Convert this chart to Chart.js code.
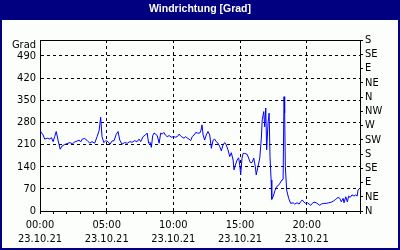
<!DOCTYPE html>
<html lang="de">
<head>
    <meta charset="UTF-8">
    <title>Windrichtung</title>
    <style>
        html, body { margin: 0; padding: 0; background: #000080; }
        .chart-box { width: 400px; height: 250px; }
    </style>
</head>
<body>
    <div class="chart-box">
        <canvas id="windChart" width="400" height="250"></canvas>
    </div>
    <script src="https://cdn.jsdelivr.net/npm/chart.js@4/dist/chart.umd.min.js"></script>
    <script>
        // Messzeitpunkte (Minuten ab 00:00) und Windrichtung in Grad
        const minutes = [0,14,21,33,44,51,59,66,73,81,91,99,111,126,136,145,156,167,176,183,
            190,201,212,224,234,246,257,266,273,279,287,296,306,315,324,333,343,351,359,369,
            381,393,404,414,426,437,446,453,464,474,482,489,496,501,507,513,521,528,536,543,
            550,557,564,572,581,591,602,609,618,626,633,640,648,656,663,671,678,685,693,701,
            708,719,725,729,734,741,748,756,764,771,779,786,793,801,809,816,824,831,838,846,
            854,861,869,873,879,887,894,899,903,909,914,921,932,939,946,954,962,969,973,981,
            989,996,1000,1007,1011,1016,1020,1026,1031,1035,1040,1043,1050,1058,1065,1072,1080,1089,1094,1098,
            1101,1104,1110,1119,1128,1139,1146,1157,1166,1173,1180,1188,1196,1203,1211,1218,1225,1233,1243,1251,
            1259,1266,1277,1288,1299,1311,1322,1331,1341,1349,1356,1364,1368,1376,1383,1389,1396,1404,1413,1421,
            1427,1431,1436]
        const grad = [254,240,227,230,227,232,219,235,251,224,195,205,210,214,216,212,218,221,224,218,
            227,229,223,214,219,214,235,254,296,235,216,222,219,211,221,222,242,251,224,211,
            216,214,219,217,222,219,227,219,235,240,246,214,216,201,237,246,243,237,214,246,
            243,248,240,235,238,233,235,233,235,243,237,233,230,235,230,227,222,235,240,248,
            246,246,256,272,240,224,240,251,240,198,224,227,219,214,203,190,209,216,209,193,
            172,184,161,130,145,161,168,145,114,167,182,182,179,167,153,153,167,140,114,140,
            167,230,288,314,266,325,193,277,309,172,98,37,47,66,77,80,88,98,100,361,
            310,140,66,40,24,26,22,26,22,29,35,28,24,26,22,18,24,28,26,22,
            18,22,24,24,26,28,32,37,43,40,29,40,26,45,29,47,43,51,47,51,
            47,66,70]

        // Achsenbeschriftung
        const gradTicks = [0, 70, 140, 210, 280, 350, 420, 490]
        const richtungen = ['N', 'NE', 'E', 'SE', 'S', 'SW', 'W', 'NW', 'N', 'NE', 'E', 'SE', 'S']
        const datum = '23.10.21'

        const points = minutes.map((m, i) => ({x: m, y: grad[i]}))

        const FONT = "'Liberation Sans Narrow', 'DejaVu Sans Condensed', 'Liberation Sans', sans-serif"
        Chart.defaults.font.family = FONT
        Chart.defaults.font.size = 11
        Chart.defaults.color = '#000'

        // Rahmen, Titelbalken, Plotrahmen und "Grad"
        const framePlugin = {
            id: 'frame',
            beforeDraw(chart) {
                const ctx = chart.ctx
                ctx.save()
                ctx.fillStyle = '#000080'
                ctx.fillRect(0, 0, 400, 250)
                ctx.fillStyle = '#fcfefc'
                ctx.fillRect(2, 20, 396, 228)
                ctx.restore()
            },
            afterDraw(chart) {
                const ctx = chart.ctx
                const a = chart.chartArea
                ctx.save()
                ctx.strokeStyle = '#000'
                ctx.lineWidth = 1
                ctx.beginPath()
                ctx.moveTo(a.left, a.top + 0.5)
                ctx.lineTo(a.right, a.top + 0.5)
                ctx.stroke()
                ctx.font = '11px ' + FONT
                ctx.fillStyle = '#000'
                ctx.textAlign = 'right'
                ctx.textBaseline = 'middle'
                ctx.fillText('Grad', 36, 45)
                ctx.restore()
            }
        }

        new Chart(document.querySelector('#windChart'), {
            type: 'line',
            data: {
                datasets: [
                    {
                        label: 'Windrichtung',
                        data: points,
                        borderColor: '#0000ff',
                        borderWidth: 1,
                        pointRadius: 0,
                        tension: 0,
                    },
                ],
            },
            options: {
                responsive: false,
                animation: false,
                layout: { padding: 0 },
                plugins: {
                    legend: { display: false },
                    tooltip: { enabled: false },
                    title: {
                        display: true,
                        text: 'Windrichtung [Grad]',
                        color: '#fff',
                        font: { size: 10.5, weight: 'bold', family: "'Liberation Sans', sans-serif", lineHeight: 1.2 },
                        padding: { top: 3, bottom: 24.4 },
                    },
                },
                scales: {
                    x: {
                        type: 'linear',
                        min: 0,
                        max: 1440,
                        afterFit: (s) => { s.height = 39 },
                        ticks: {
                            stepSize: 60,
                            autoSkip: false,
                            maxRotation: 0,
                            padding: 4,
                            font: { lineHeight: '14px' },
                            callback: (v) => {
                                if (v % 300 !== 0 || v >= 1440) return ''
                                const h = String(v / 60).padStart(2, '0')
                                return [h + ':00', datum]
                            },
                        },
                        grid: {
                            color: (c) => (c.tick && c.tick.value % 300 === 0 && c.tick.value > 0 && c.tick.value < 1440) ? '#000' : 'rgba(0,0,0,0)',
                            tickColor: '#000',
                            tickLength: 3,
                        },
                        border: { color: '#000', dash: [3, 3] },
                    },
                    y: {
                        position: 'left',
                        min: 0,
                        max: 540,
                        afterFit: (s) => { s.width = 40 },
                        afterBuildTicks: (s) => { s.ticks = gradTicks.map(v => ({value: v})) },
                        ticks: { padding: 4, autoSkip: false },
                        grid: {
                            color: (c) => (c.tick && c.tick.value > 0) ? '#000' : 'rgba(0,0,0,0)',
                            drawTicks: false,
                        },
                        border: { color: '#000', dash: [3, 3] },
                    },
                    y2: {
                        position: 'right',
                        min: 0,
                        max: 540,
                        afterFit: (s) => { s.width = 40 },
                        afterBuildTicks: (s) => { s.ticks = richtungen.map((r, i) => ({value: i * 45})) },
                        ticks: {
                            padding: 2,
                            autoSkip: false,
                            callback: (v, i) => richtungen[i],
                        },
                        grid: {
                            drawOnChartArea: false,
                            tickColor: '#000',
                            tickLength: 3,
                        },
                        border: { color: '#000' },
                    },
                },
            },
            plugins: [framePlugin],
        })
    </script>
</body>
</html>
